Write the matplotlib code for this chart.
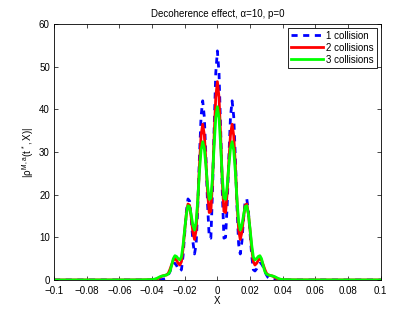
import numpy as np
import matplotlib
matplotlib.use("Agg")
import matplotlib.pyplot as plt

plt.rcParams["font.family"] = ["Liberation Sans", "DejaVu Sans"]
plt.rcParams["mathtext.fontset"] = "custom"
plt.rcParams["mathtext.rm"] = "Liberation Sans"
plt.rcParams["mathtext.it"] = "Liberation Sans"

# sample positions: outer tails, then 0.001 steps across the central packet
x = np.concatenate([[-0.1, -0.06, -0.05, -0.045],
                    np.arange(-40, 41) / 1000.0,
                    [0.045, 0.05, 0.06, 0.1]])

one_collision = [
    0, 0, 0, 0,
    0, 0, 0.01, 0.02, 0.03, 0.05, 0.1, 0.2, 0.3, 0.6, 1.2, 2.0, 3.1, 3.8, 3.9, 3.4, 2.6, 2.1,
    2.4, 5.7, 10.9, 16.0, 19.0, 18.5, 14.3, 9.0, 6.1, 8.4, 17.1, 28.7, 38.3, 42.0, 38.2, 28.6,
    17.6, 10.0, 9.8, 20.6, 35.4, 48.5,
    53.7,
    48.5, 35.4, 20.6, 9.8, 10.0, 17.6, 28.6, 38.2, 42.0, 38.3, 28.7, 17.1, 8.4, 6.1, 9.0, 14.3,
    18.5, 19.0, 16.0, 10.9, 5.7, 2.4, 2.1, 2.6, 3.4, 3.9, 3.8, 3.1, 2.0, 1.2, 0.6, 0.3, 0.2,
    0.1, 0.05, 0.03, 0.02, 0.01, 0, 0,
    0, 0, 0, 0,
]

two_collisions = [
    0, 0, 0.01, 0.02,
    0.05, 0.1, 0.15, 0.25, 0.4, 0.6, 0.9, 1.0, 1.1, 1.2, 1.6, 2.5, 3.6, 4.6, 5.0, 4.6, 3.9, 3.5,
    4.3, 7.4, 11.6, 15.5, 17.8, 17.5, 14.6, 11.2, 9.5, 11.7, 18.3, 26.8, 33.8, 36.5, 34.0, 27.7,
    20.5, 15.8, 16.1, 23.0, 33.6, 42.8,
    46.5,
    42.8, 33.6, 23.0, 16.1, 15.8, 20.5, 27.7, 34.0, 36.5, 33.8, 26.8, 18.3, 11.7, 9.5, 11.2,
    14.6, 17.5, 17.8, 15.5, 11.6, 7.4, 4.3, 3.5, 3.9, 4.6, 5.0, 4.6, 3.6, 2.5, 1.6, 1.2, 1.1,
    1.0, 0.9, 0.6, 0.4, 0.25, 0.15, 0.1, 0.05,
    0.02, 0.01, 0, 0,
]

three_collisions = [
    0, 0.01, 0.02, 0.05,
    0.1, 0.15, 0.25, 0.4, 0.6, 0.8, 0.9, 1.0, 1.1, 1.2, 1.4, 2.0, 3.4, 5.0, 5.7, 5.5, 5.0, 4.7,
    5.4, 8.2, 11.9, 15.4, 17.4, 17.2, 15.2, 12.8, 11.7, 13.7, 18.8, 25.3, 30.4, 32.4, 30.8, 26.7,
    22.0, 18.9, 19.2, 24.0, 31.5, 38.0,
    40.6,
    38.0, 31.5, 24.0, 19.2, 18.9, 22.0, 26.7, 30.8, 32.4, 30.4, 25.3, 18.8, 13.7, 11.7, 12.8,
    15.2, 17.2, 17.4, 15.4, 11.9, 8.2, 5.4, 4.7, 5.0, 5.5, 5.7, 5.0, 3.4, 2.0, 1.4, 1.2, 1.1,
    1.0, 0.9, 0.8, 0.6, 0.4, 0.25, 0.15, 0.1,
    0.05, 0.02, 0.01, 0,
]

xticks = [-0.1, -0.08, -0.06, -0.04, -0.02, 0, 0.02, 0.04, 0.06, 0.08, 0.1]
xtick_labels = ["\u22120.1", "\u22120.08", "\u22120.06", "\u22120.04", "\u22120.02", "0",
                "0.02", "0.04", "0.06", "0.08", "0.1"]
yticks = [0, 10, 20, 30, 40, 50, 60]

fig = plt.figure(figsize=(4.2, 3.16), dpi=100)
ax = fig.add_axes([0.1286, 0.114, 0.778, 0.810])

ax.plot(x, one_collision, color=(0, 0, 1), lw=2, linestyle=(0, (2.2, 2.0)), label="1 collision")
ax.plot(x, two_collisions, color=(1, 0, 0), lw=2, label="2 collisions")
ax.plot(x, three_collisions, color=(0, 1, 0), lw=2, label="3 collisions")

ax.set_xlim(-0.1, 0.1)
ax.set_ylim(0, 60)
ax.set_xticks(xticks)
ax.set_xticklabels(xtick_labels)
ax.set_yticks(yticks)
ax.tick_params(direction="in", length=3, width=0.5, labelsize=7, top=True, right=True)
ax.tick_params(axis="x", pad=4)
ax.tick_params(axis="y", pad=3)
for s in ax.spines.values():
    s.set_linewidth(0.6)

ax.set_title("Decoherence effect, \u03b1=10, p=0", fontsize=7, pad=5)
ax.set_xlabel("X", fontsize=7, labelpad=0)
ax.set_ylabel(r"$|\rho^{M,a}(t^*,X)|$", fontsize=7, labelpad=2)

leg = ax.legend(loc="upper right", fontsize=7, handlelength=3.3, fancybox=False,
                framealpha=1, edgecolor="black", borderpad=0.3, labelspacing=0.2,
                handletextpad=0.3, borderaxespad=0.4)
leg.get_frame().set_linewidth(0.6)

fig.savefig("out.png", dpi=100)
